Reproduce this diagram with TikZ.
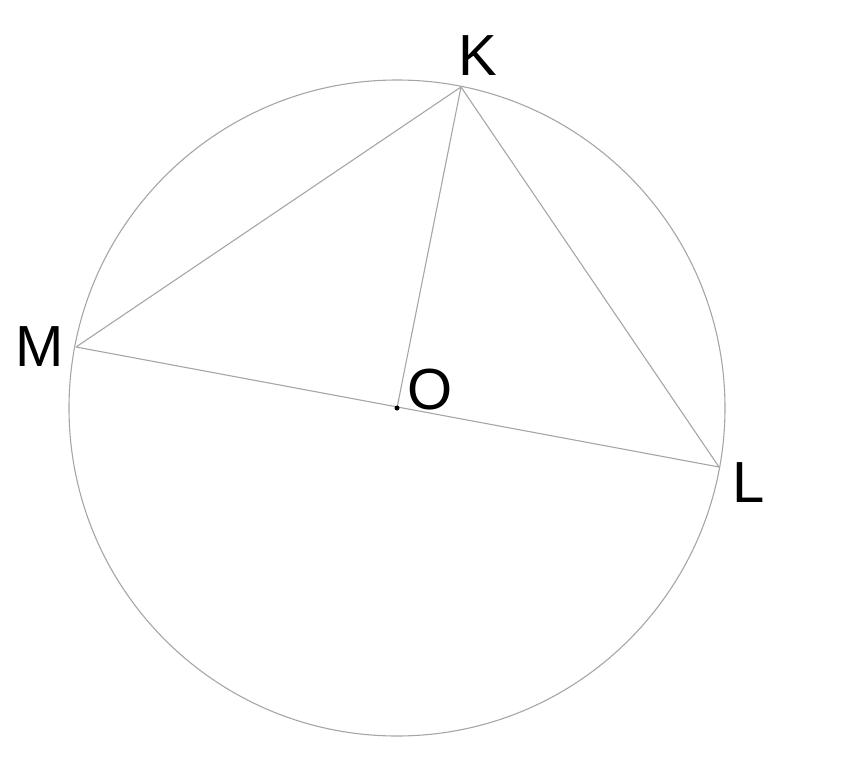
\documentclass[tikz,border=0pt]{standalone}
\usepackage{fontspec}
\setmainfont{Liberation Sans}
\begin{document}
\begin{tikzpicture}[x=1pt,y=-1pt,
  geo/.style={draw=black!35,line width=1.1pt},
  lbl/.style={font=\fontsize{58}{58}\selectfont,inner sep=0pt,text=black}]
\useasboundingbox (0,0) rectangle (847,771);
\coordinate (O) at (397,408);
\coordinate (K) at (461,87);
\coordinate (M) at (76,347);
\coordinate (L) at (719,467);
\draw[geo] (O) circle[radius=328];
\draw[geo] (M) -- (K) -- (L) -- (M);
\draw[geo] (K) -- (O);
\fill[black] (O) circle[radius=2.5];
\node[lbl] (lK) at (478,56) {K};
\node[lbl] (lM) at (40,347) {M};
\node[lbl] (lO) at (430,390) {O};
\node[lbl] (lL) at (749,483) {L};
\end{tikzpicture}
\end{document}
